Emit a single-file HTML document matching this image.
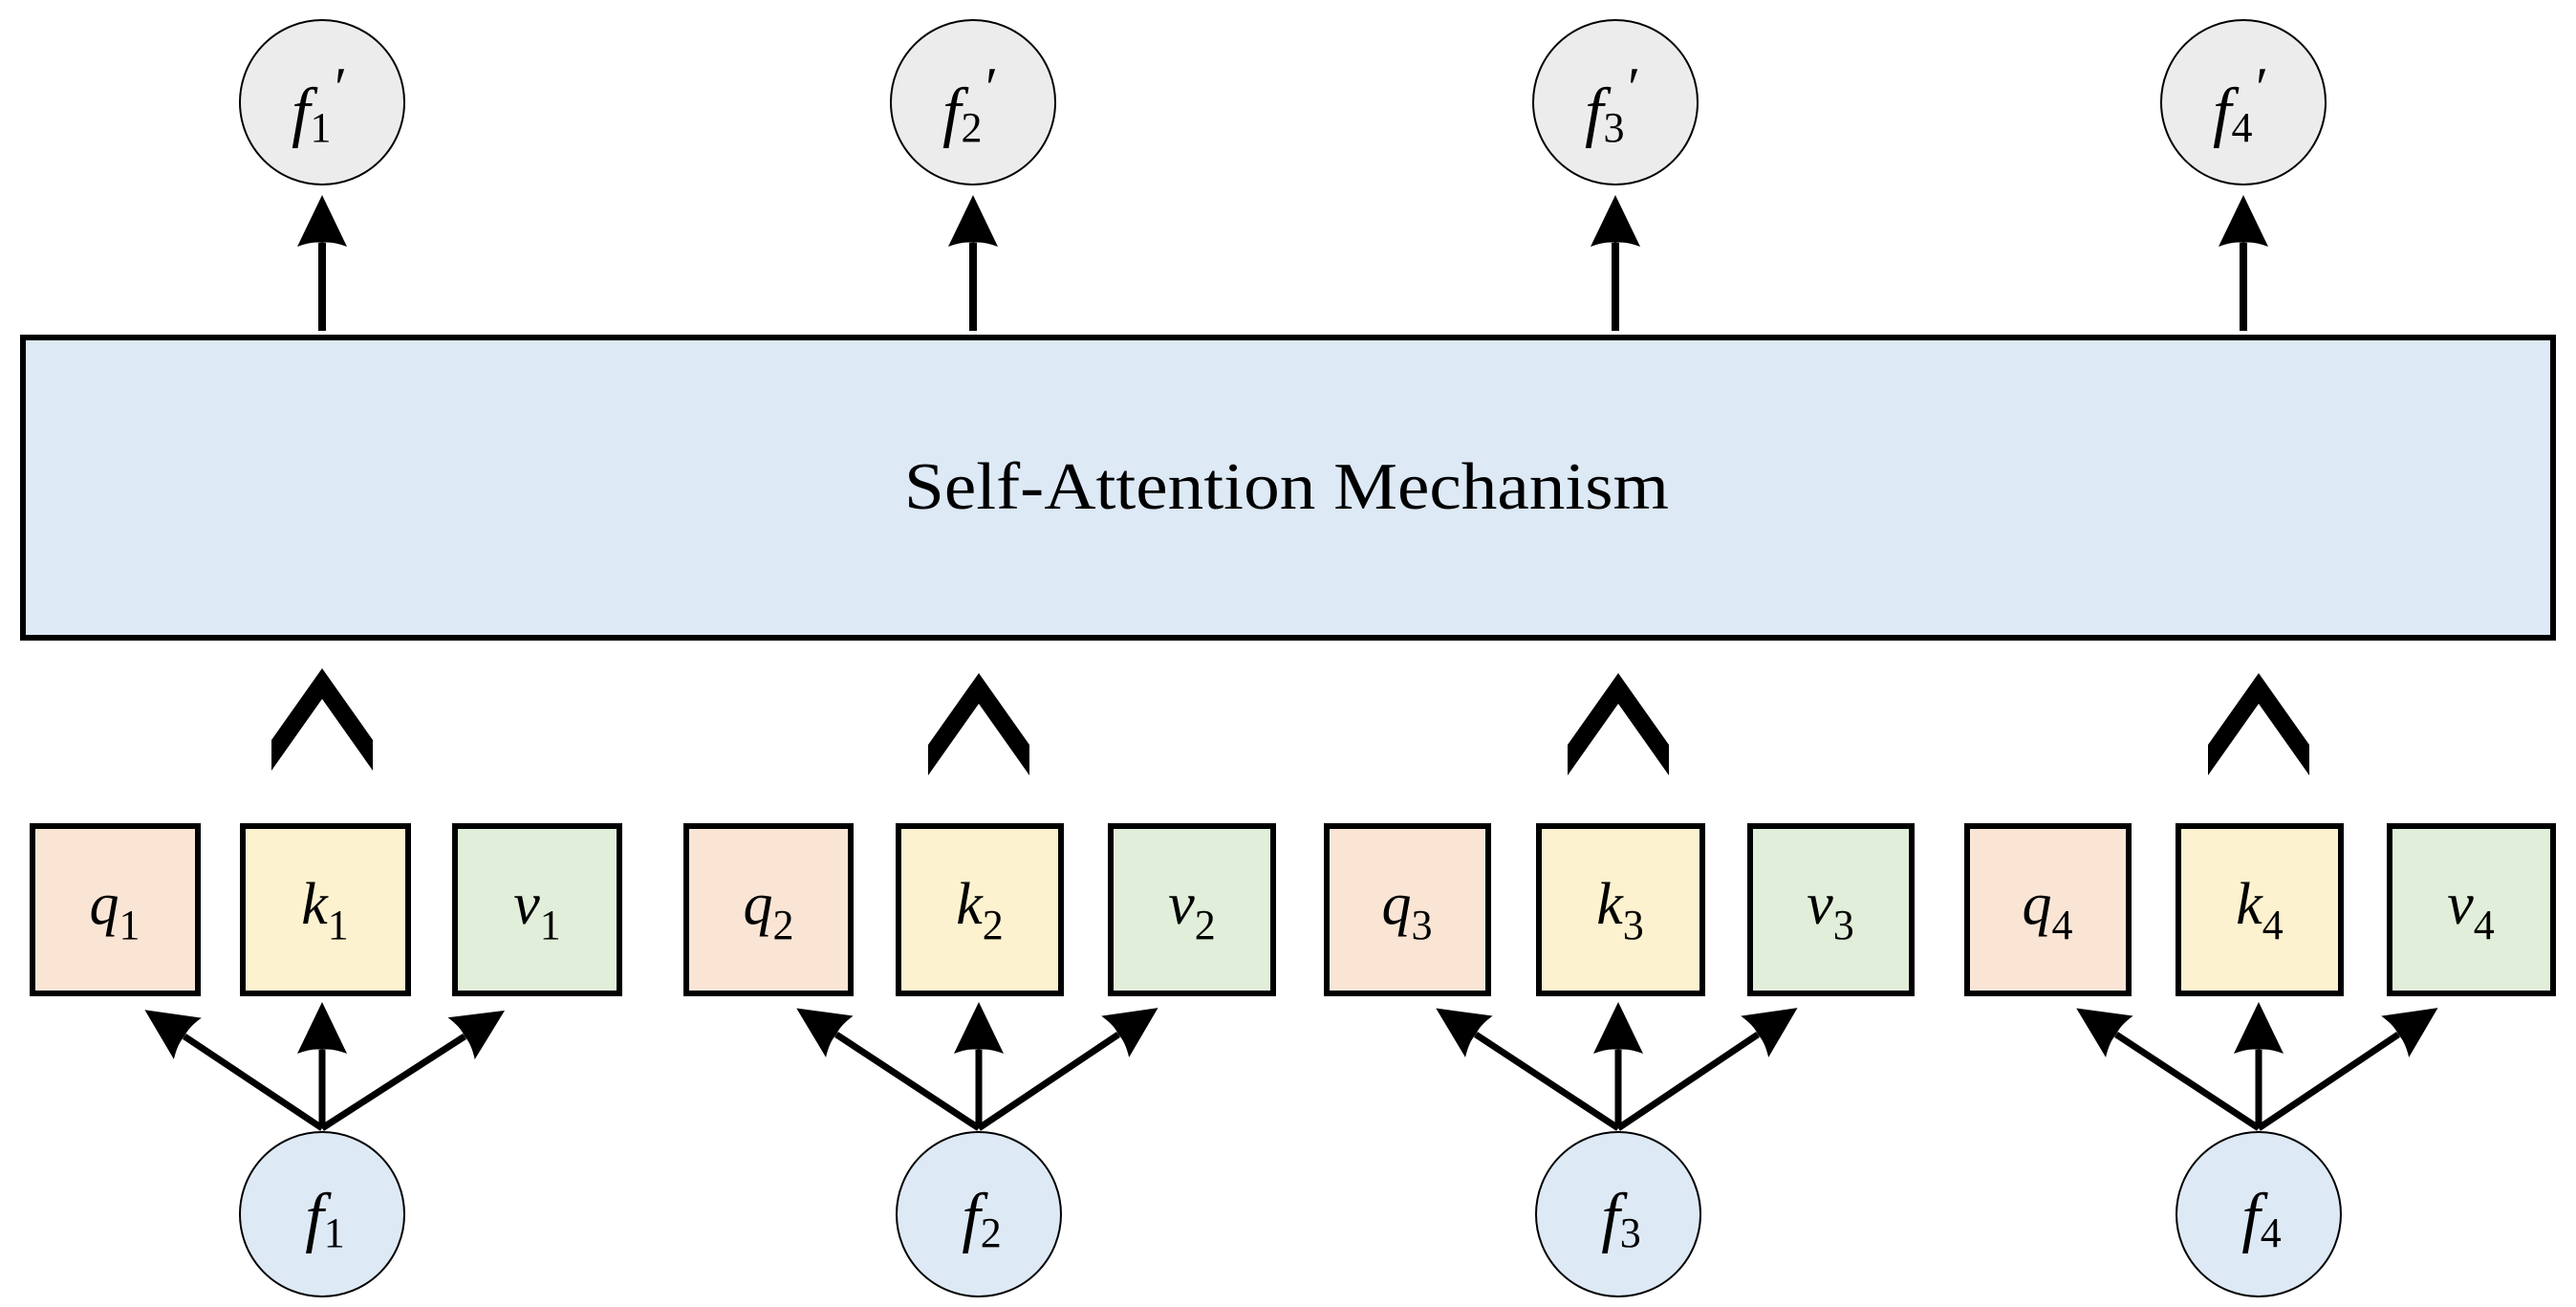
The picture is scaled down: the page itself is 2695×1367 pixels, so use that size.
<!DOCTYPE html>
<html><head><meta charset="utf-8"><style>
html,body{margin:0;padding:0;background:#fff;}
svg{display:block;}
text{font-family:"Liberation Serif",serif;fill:#000;}
.lab{font-style:italic;font-size:62px;}
.flab{font-style:italic;font-size:70px;}
.sub{font-style:normal;font-size:44px;}
.pr{font-style:normal;font-size:60px;}
</style></head><body>
<svg width="2695" height="1367" viewBox="0 0 2695 1367" xmlns="http://www.w3.org/2000/svg">
<defs>
<marker id="ah" markerUnits="userSpaceOnUse" markerWidth="60" markerHeight="60" viewBox="-10 -30 60 60" refX="0" refY="0" orient="auto">
<path d="M50,0 L-4,-26 Q2,-10 0,0 Q2,10 -4,26 Z" fill="#000"/>
</marker>
</defs>

<rect x="24" y="353" width="2647" height="314" fill="#dde9f5" stroke="#000" stroke-width="6"/>
<text x="1346" y="532" font-size="70" text-anchor="middle" textLength="800" lengthAdjust="spacingAndGlyphs">Self-Attention Mechanism</text>

<g stroke="#000" stroke-width="8" marker-end="url(#ah)">
<line x1="337" y1="346" x2="337" y2="254"/>
<line x1="1018" y1="346" x2="1018" y2="254"/>
<line x1="1690" y1="346" x2="1690" y2="254"/>
<line x1="2347" y1="346" x2="2347" y2="254"/>
</g>
<g fill="#ececec" stroke="#000" stroke-width="2">
<circle cx="337" cy="107" r="86"/>
<circle cx="1018" cy="107" r="86"/>
<circle cx="1690" cy="107" r="86"/>
<circle cx="2347" cy="107" r="86"/>
</g>
<text x="305" y="140" class="flab">f<tspan class="sub" dy="8">1</tspan></text>
<text x="350" y="112" class="pr">′</text>
<text x="986" y="140" class="flab">f<tspan class="sub" dy="8">2</tspan></text>
<text x="1031" y="112" class="pr">′</text>
<text x="1658" y="140" class="flab">f<tspan class="sub" dy="8">3</tspan></text>
<text x="1703" y="112" class="pr">′</text>
<text x="2315" y="140" class="flab">f<tspan class="sub" dy="8">4</tspan></text>
<text x="2360" y="112" class="pr">′</text>

<g fill="#000">
<polygon points="337,699 390,774 390,806 337,731 284,806 284,774"/>
<polygon points="1024,704 1077,779 1077,811 1024,736 971,811 971,779"/>
<polygon points="1693,704 1746,779 1746,811 1693,736 1640,811 1640,779"/>
<polygon points="2363,704 2416,779 2416,811 2363,736 2310,811 2310,779"/>
</g>

<g stroke="#000" stroke-width="6">
<rect x="34" y="864" width="173" height="175" fill="#fae5d5"/>
<rect x="254" y="864" width="173" height="175" fill="#fdf2cf"/>
<rect x="476" y="864" width="172" height="175" fill="#e1eed9"/>
<rect x="718" y="864" width="172" height="175" fill="#fae5d5"/>
<rect x="940" y="864" width="170" height="175" fill="#fdf2cf"/>
<rect x="1162" y="864" width="170" height="175" fill="#e1eed9"/>
<rect x="1388" y="864" width="169" height="175" fill="#fae5d5"/>
<rect x="1610" y="864" width="171" height="175" fill="#fdf2cf"/>
<rect x="1831" y="864" width="169" height="175" fill="#e1eed9"/>
<rect x="2058" y="864" width="169" height="175" fill="#fae5d5"/>
<rect x="2279" y="864" width="170" height="175" fill="#fdf2cf"/>
<rect x="2500" y="864" width="171" height="175" fill="#e1eed9"/>
</g>
<g text-anchor="middle">
<text x="120" y="966" class="lab">q<tspan class="sub" dy="16">1</tspan></text>
<text x="340" y="966" class="lab">k<tspan class="sub" dy="16">1</tspan></text>
<text x="562" y="966" class="lab">v<tspan class="sub" dy="16">1</tspan></text>
<text x="804" y="966" class="lab">q<tspan class="sub" dy="16">2</tspan></text>
<text x="1025" y="966" class="lab">k<tspan class="sub" dy="16">2</tspan></text>
<text x="1247" y="966" class="lab">v<tspan class="sub" dy="16">2</tspan></text>
<text x="1472" y="966" class="lab">q<tspan class="sub" dy="16">3</tspan></text>
<text x="1695" y="966" class="lab">k<tspan class="sub" dy="16">3</tspan></text>
<text x="1915" y="966" class="lab">v<tspan class="sub" dy="16">3</tspan></text>
<text x="2142" y="966" class="lab">q<tspan class="sub" dy="16">4</tspan></text>
<text x="2364" y="966" class="lab">k<tspan class="sub" dy="16">4</tspan></text>
<text x="2585" y="966" class="lab">v<tspan class="sub" dy="16">4</tspan></text>
</g>

<g stroke="#000" stroke-width="7" marker-end="url(#ah)">
<line x1="337" y1="1180" x2="193" y2="1084"/>
<line x1="337" y1="1180" x2="337" y2="1098"/>
<line x1="337" y1="1180" x2="486" y2="1084"/>
<line x1="1024" y1="1180" x2="875" y2="1082"/>
<line x1="1024" y1="1180" x2="1024" y2="1098"/>
<line x1="1024" y1="1180" x2="1170" y2="1082"/>
<line x1="1693" y1="1180" x2="1544" y2="1082"/>
<line x1="1693" y1="1180" x2="1693" y2="1098"/>
<line x1="1693" y1="1180" x2="1839" y2="1082"/>
<line x1="2363" y1="1180" x2="2214" y2="1082"/>
<line x1="2363" y1="1180" x2="2363" y2="1098"/>
<line x1="2363" y1="1180" x2="2509" y2="1082"/>
</g>

<g fill="#dde9f5" stroke="#000" stroke-width="2">
<circle cx="337" cy="1270" r="86"/>
<circle cx="1024" cy="1270" r="86"/>
<circle cx="1693" cy="1270" r="86"/>
<circle cx="2363" cy="1270" r="86"/>
</g>
<g text-anchor="middle">
<text x="340" y="1296" class="flab">f<tspan class="sub" dy="8">1</tspan></text>
<text x="1027" y="1296" class="flab">f<tspan class="sub" dy="8">2</tspan></text>
<text x="1696" y="1296" class="flab">f<tspan class="sub" dy="8">3</tspan></text>
<text x="2366" y="1296" class="flab">f<tspan class="sub" dy="8">4</tspan></text>
</g>
</svg>
</body></html>
